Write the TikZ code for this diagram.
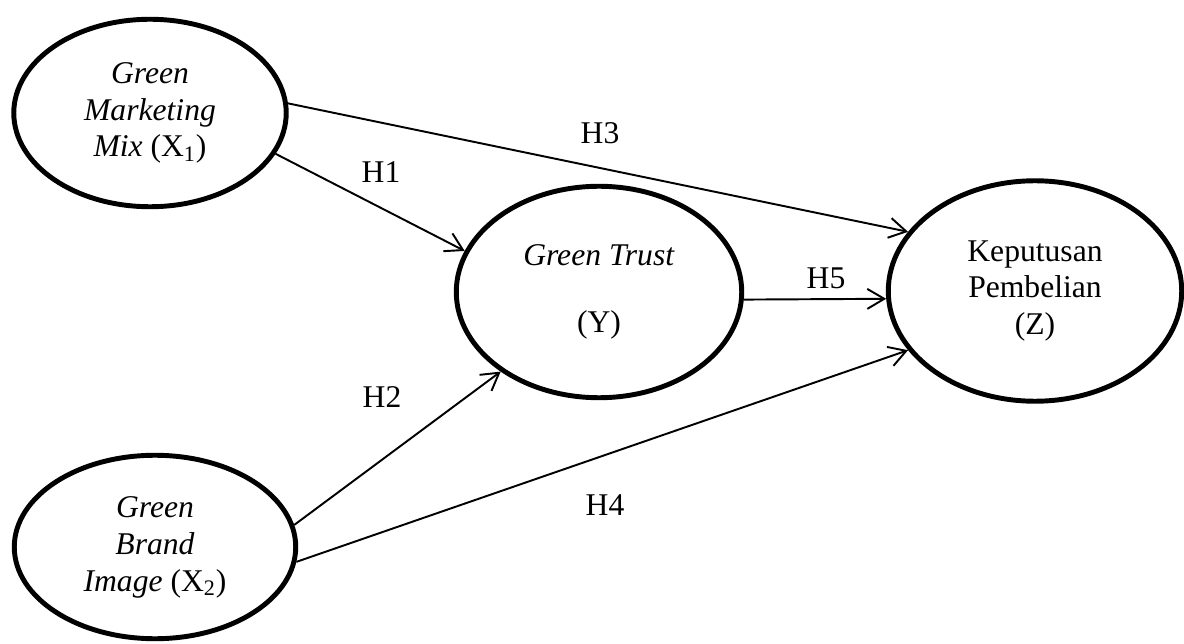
\documentclass[tikz,border=0pt]{standalone}
\usepackage{fontspec}
\setmainfont{Liberation Serif}
\usetikzlibrary{arrows.meta, shapes.geometric, positioning}
\tikzset{
  varnode/.style={draw, ellipse, line width=2.8pt, inner sep=0pt, align=center,
    font=\fontsize{18}{21}\selectfont},
  hypo/.style={font=\fontsize{18}{21}\selectfont, inner sep=0pt},
  hyparrow/.style={->, line width=1.1pt}
}

\begin{document}
\begin{tikzpicture}[x=0.02cm, y=0.02cm, >={Straight Barb[length=0.34cm, width=0.4cm]}]
\useasboundingbox (0,0) rectangle (1184,643);
\node[varnode, minimum width=5.45cm, minimum height=3.75cm] (x1) at (150,530) {\textit{Green}\\\textit{Marketing}\\\textit{Mix} (X\textsubscript{1})};
\node[varnode, minimum width=5.63cm, minimum height=3.67cm] (x2) at (155,96) {\textit{Green}\\\textit{Brand}\\\textit{Image} (X\textsubscript{2})};
\node[varnode, minimum width=5.71cm, minimum height=4.23cm] (y) at (599,351) {\textit{Green Trust}\\[0.6cm](Y)};
\node[varnode, minimum width=5.87cm, minimum height=4.41cm] (z) at (1035,352) {Keputusan\\Pembelian\\(Z)};
% hypotheses
\draw [hyparrow] (x1.-18.3) -- (y.163.1);
\draw [hyparrow] (x2.9.1) -- (y.219.5);
\draw [hyparrow] (x1.4.9) -- (z.155.1);
\draw [hyparrow] (x2.-6.4) -- (z.205.3);
\draw [hyparrow] (y.-3.6) -- (z.183.1);
\node[hypo] (h1) at (381,471) {H1};
\node[hypo] (h2) at (382,246) {H2};
\node[hypo] (h3) at (600,510) {H3};
\node[hypo] (h4) at (605,138) {H4};
\node[hypo] (h5) at (826,365) {H5};
\end{tikzpicture}
\end{document}
